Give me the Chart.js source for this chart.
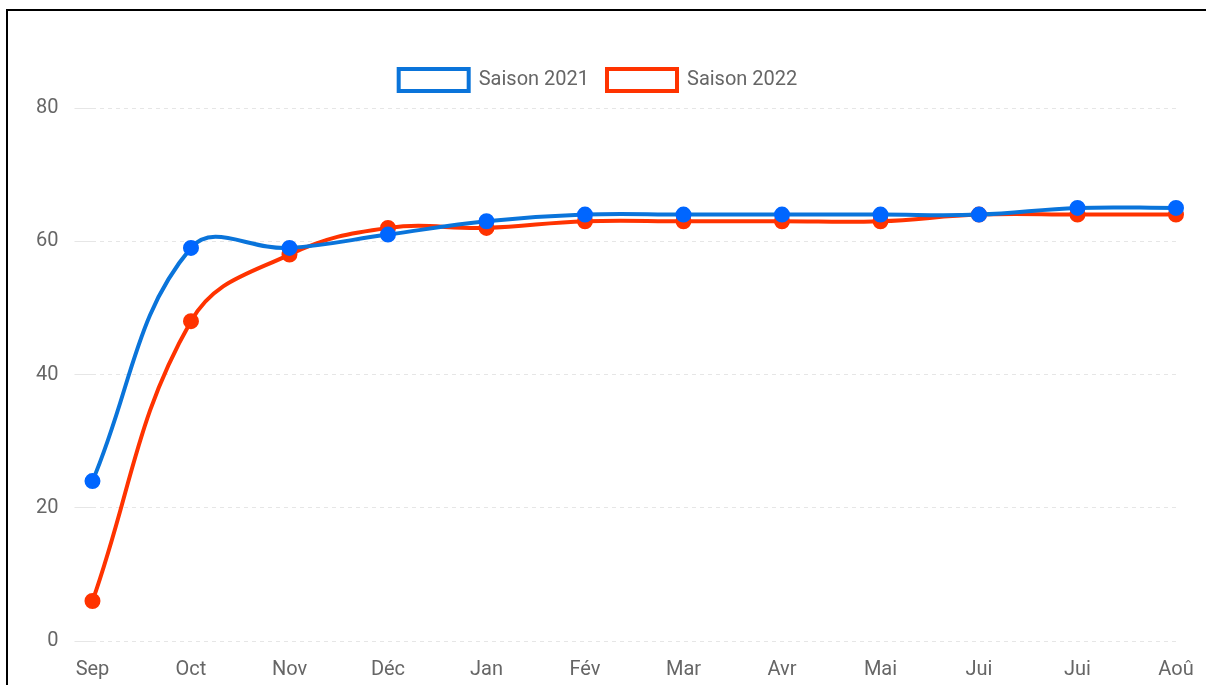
<!DOCTYPE html>
<html>
<head>
<meta charset="utf-8">
<script src="https://cdn.jsdelivr.net/npm/chart.js@4"></script>
<style>
  body { margin: 0; background: #fff; overflow: hidden; }
  #wrap {
    position: absolute; left: 6px; top: 9px;
    width: 1240px; height: 720px;
    border: 2px solid #000; background: #fff;
  }
  #myChart { display: block; }
</style>
</head>
<body>
<div id="wrap">
  <canvas id="myChart" width="1200" height="690"></canvas>
</div>
<script>
var months = ['Sep', 'Oct', 'Nov', 'Déc', 'Jan', 'Fév', 'Mar', 'Avr', 'Mai', 'Jui', 'Jui', 'Aoû'];
var season2021 = [24, 59, 59, 61, 63, 64, 64, 64, 64, 64, 65, 65];
var season2022 = [6, 48, 58, 62, 62, 63, 63, 63, 63, 64, 64, 64];

Chart.defaults.font.family = 'Roboto, "Liberation Sans", sans-serif';
Chart.defaults.font.size = 20;
Chart.defaults.color = '#666';

// a bit more room under the legend
var legendMargin = {
  id: 'legendMargin',
  beforeInit: function(chart) {
    var fit = chart.legend.fit;
    chart.legend.fit = function() {
      fit.bind(chart.legend)();
      this.height += 7;
    };
  }
};

var ctx = document.getElementById('myChart').getContext('2d');
new Chart(ctx, {
  type: 'line',
  data: {
    labels: months,
    datasets: [{
      label: 'Saison 2021',
      data: season2021,
      borderColor: '#0a74da',
      backgroundColor: '#fff',
      pointBackgroundColor: '#0066ff',
      pointBorderColor: '#0066ff',
      borderWidth: 4,
      pointRadius: 6,
      tension: 0.4
    },
    {
      label: 'Saison 2022',
      data: season2022,
      borderColor: '#ff3300',
      backgroundColor: '#fff',
      pointBackgroundColor: '#ff3300',
      pointBorderColor: '#ff3300',
      borderWidth: 4,
      pointRadius: 6,
      tension: 0.4
    }]
  },
  options: {
    responsive: false,
    animation: false,
    layout: { padding: { top: 40, left: 12, right: 32, bottom: 10 } },
    plugins: {
      legend: {
        labels: { boxWidth: 70, boxHeight: 22, padding: 18 }
      },
      tooltip: { enabled: false }
    },
    scales: {
      x: {
        grid: { display: false },
        border: { display: false },
        ticks: { padding: 9 }
      },
      y: {
        min: 0,
        max: 80,
        ticks: { stepSize: 20, padding: 16 },
        border: { display: false, dash: [4, 4] },
        grid: { color: '#e6e6e6', tickLength: 18 }
      }
    }
  },
  plugins: [legendMargin]
});
</script>
</body>
</html>
